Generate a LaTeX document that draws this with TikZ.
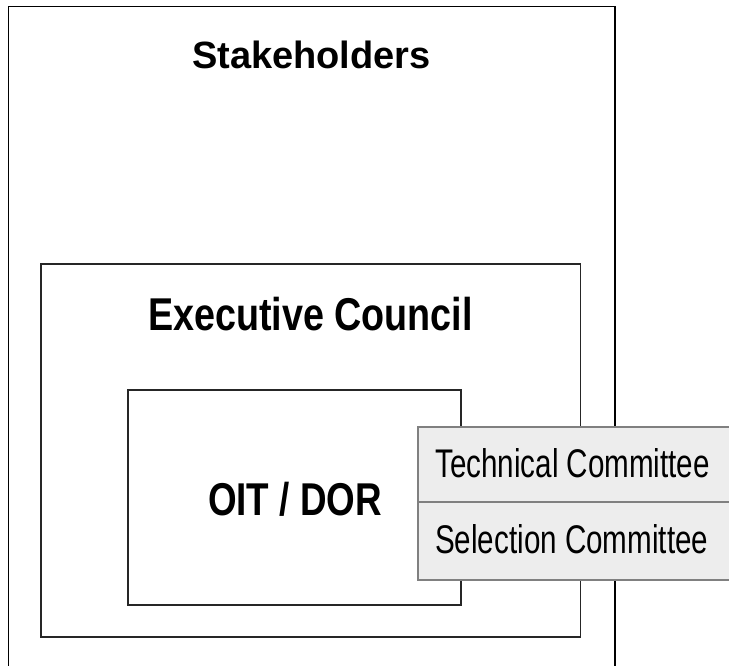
\documentclass[tikz,border=0pt]{standalone}
\usepackage{fontspec}
\setmainfont{Liberation Sans}
\begin{document}
\begin{tikzpicture}[x=1pt, y=-1pt,
      frame/.style={draw=black!85, line width=1.8pt},
      cell/.style={draw=black!50, fill=black!7, line width=1.6pt},
      title/.style={font=\bfseries\fontsize{46}{50}\selectfont, anchor=base, inner sep=0pt},
      member/.style={font=\fontsize{40}{44}\selectfont, anchor=base west, inner sep=0pt}
      ]
      \useasboundingbox (0,0) rectangle (729,665);
      \clip (0,0) rectangle (729,665);
      % nested boxes
      \draw[frame, draw=black] (8.5,6.5) rectangle (615,690);
      \draw[frame] (41,264) rectangle (580.5,637);
      \draw[frame] (128,390) rectangle (461,605);
      \draw[cell] (418,427) rectangle (745,502);
      \draw[cell] (418,502) rectangle (745,580);
      % labels
      \node[title, font=\bfseries\fontsize{38}{42}\selectfont] (stake) at (311.5,68) {Stakeholders};
      \node[title] (exec) at (310.5,330) {\scalebox{0.82}[1]{Executive Council}};
      \node[title] (oit) at (295,515) {\scalebox{0.80}[1]{OIT / DOR}};
      \node[member] (tech) at (435,477) {\scalebox{0.74}[1]{Technical Committee}};
      \node[member] (sel) at (435,553) {\scalebox{0.74}[1]{Selection Committee}};
    \end{tikzpicture}
\end{document}
